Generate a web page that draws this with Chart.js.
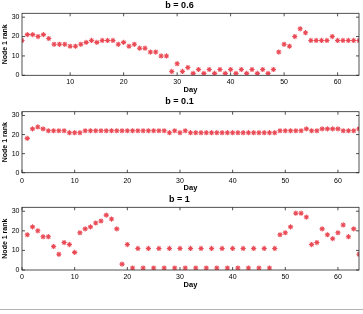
<!DOCTYPE html>
<html><head><meta charset="utf-8">
<script src="https://cdn.jsdelivr.net/npm/chart.js@4.4.0/dist/chart.umd.min.js"></script>
<style>
html,body{margin:0;padding:0;background:#fff;}
body{width:363px;height:314px;position:relative;overflow:hidden;}
.c{position:absolute;left:0;width:363px;}
#rule{position:absolute;left:0;top:309px;width:363px;height:1px;background:#b4b4b4;}
</style></head><body>
<div class="c" style="top:0;height:95px"><canvas id="c1"></canvas></div>
<div class="c" style="top:95px;height:98px"><canvas id="c2"></canvas></div>
<div class="c" style="top:193px;height:98px"><canvas id="c3"></canvas></div>
<div id="rule"></div>
<script>
const days = [1,2,3,4,5,6,7,8,9,10,11,12,13,14,15,16,17,18,19,20,21,22,23,24,25,26,27,28,29,30,31,32,
  33,34,35,36,37,38,39,40,41,42,43,44,45,46,47,48,49,50,51,52,53,54,55,56,57,58,59,60,61,62,63,64];
const titles = ["b = 0.6", "b = 0.1", "b = 1"];
const rankB06 = [18,21,21,20,21,19,16,16,16,15,15,16,17,18,17,18,18,18,16,17,15,16,14,14,12,12,10,10,
  2,6,2,4,1,3,1,3,1,3,1,3,1,3,1,3,1,3,1,3,12,16,15,20,24,22,18,18,18,18,20,18,18,18,18,18];
const rankB01 = [18,23,24,23,22,22,22,22,21,21,21,22,22,22,22,22,22,22,22,22,22,22,22,22,22,22,22,21,
  22,21,22,21,21,21,21,21,21,21,21,21,21,21,21,21,21,21,21,21,22,22,22,22,22,23,22,22,23,23,23,23,22,22,22,23];
const rankB1 = [18,22,20,17,17,12,8,14,13,9,19,21,22,24,25,28,26,21,3,13,1,11,1,11,1,11,1,11,1,11,1,11,
  1,11,1,11,1,11,1,11,1,11,1,11,1,11,1,11,18,19,22,29,29,27,13,14,21,18,16,19,23,17,21,8];
const xTickStep = 10;
const yTicks = [0, 10, 20, 30];

const FONT = "'Liberation Sans', Arial, Helvetica, sans-serif";

const boxPlugin = {
  id: 'box',
  afterDraw(chart) {
    const {ctx, chartArea: a} = chart;
    const xs = chart.scales.x, ys = chart.scales.y;
    ctx.save();
    ctx.strokeStyle = '#262626';
    ctx.lineWidth = 0.8;
    ctx.strokeRect(a.left, a.top, a.right - a.left, a.bottom - a.top);
    const L = 3;
    ctx.beginPath();
    xs.ticks.forEach(t => {
      const px = xs.getPixelForValue(t.value);
      ctx.moveTo(px, a.bottom); ctx.lineTo(px, a.bottom - L);
      ctx.moveTo(px, a.top); ctx.lineTo(px, a.top + L);
    });
    ys.ticks.forEach(t => {
      const py = ys.getPixelForValue(t.value);
      ctx.moveTo(a.left, py); ctx.lineTo(a.left + L, py);
      ctx.moveTo(a.right, py); ctx.lineTo(a.right - L, py);
    });
    ctx.stroke();
    ctx.restore();
  }
};

function makeChart(id, title, values, cfg) {
  const pts = days.map((d, i) => ({x: d, y: values[i]}));
  new Chart(document.getElementById(id), {
    type: 'scatter',
    data: {datasets: [{data: pts, pointStyle: 'star', pointRadius: 2.6, pointHoverRadius: 2.6,
      borderColor: '#ea4a55', backgroundColor: '#ea4a55', borderWidth: 1.05}]},
    options: {
      responsive: true, maintainAspectRatio: false, animation: false,
      devicePixelRatio: 1,
      layout: {padding: {left: 0, right: 4, top: 0, bottom: 0}},
      plugins: {
        legend: {display: false}, tooltip: {enabled: false},
        title: {display: true, text: title, color: '#000',
          font: {family: FONT, size: 9, weight: 'bold', lineHeight: 1.2},
          padding: {top: cfg.tpt, bottom: cfg.tpb}}
      },
      scales: {
        x: {type: 'linear', min: cfg.xmin, max: 64,
          grid: {display: false, drawTicks: false}, border: {display: false},
          ticks: {stepSize: xTickStep, includeBounds: false, color: '#000', padding: cfg.xtp,
            maxRotation: 0, font: {family: FONT, size: 7}},
          title: {display: true, text: 'Day', color: '#000',
            font: {family: FONT, size: 7.5, weight: 'bold', lineHeight: 1.2},
            padding: {top: 0, bottom: cfg.dpb}},
          afterFit(s) { s.height = cfg.xh; }
        },
        y: {type: 'linear', min: 0, max: 32,
          grid: {display: false, drawTicks: false}, border: {display: false},
          afterBuildTicks(s) { s.ticks = yTicks.map(v => ({value: v})); },
          ticks: {color: '#000', padding: 2.5, font: {family: FONT, size: 7}},
          title: {display: true, text: 'Node 1 rank', color: '#000',
            font: {family: FONT, size: 7, weight: 'bold', lineHeight: 1.2},
            padding: {top: 0.5, bottom: 0}},
          afterFit(s) { s.width = 22; }
        }
      }
    },
    plugins: [boxPlugin]
  });
}

makeChart('c1', titles[0], rankB06, {xmin: 1, tpt: 0.5, tpb: 2, xtp: 2.4, dpb: 1, xh: 19.7});
makeChart('c2', titles[1], rankB01, {xmin: 0, tpt: 0.9, tpb: 5, xtp: 4.2, dpb: 0.2, xh: 20.3});
makeChart('c3', titles[2], rankB1, {xmin: 0, tpt: 0.9, tpb: 2.6, xtp: 3, dpb: 1.2, xh: 21});
</script>
</body></html>
